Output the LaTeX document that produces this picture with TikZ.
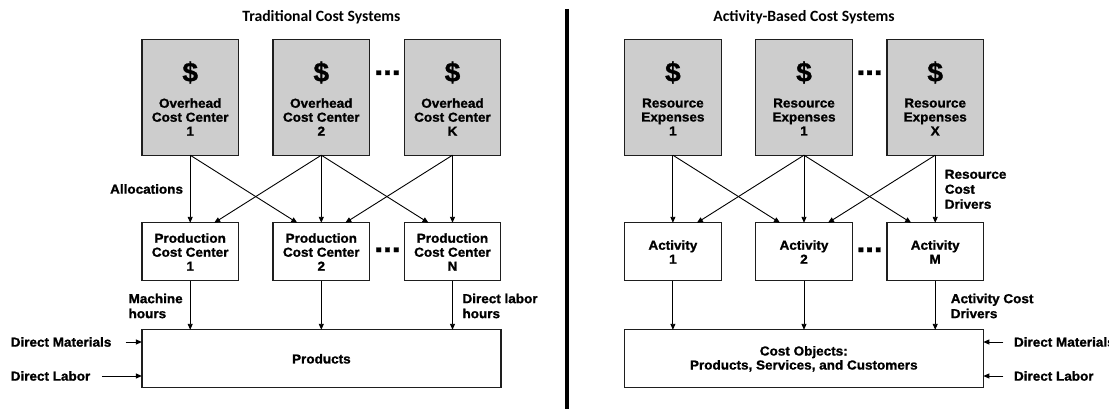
\documentclass[tikz,border=0pt]{standalone}
\usepackage{fontspec}
\setmainfont{Liberation Sans}[BoldFeatures={FakeBold=1.2,FakeStretch=1.04}]
\newfontfamily\titlefont{Carlito}
\usetikzlibrary{arrows.meta}

\definecolor{boxgray}{RGB}{205,205,205}
\definecolor{edge}{RGB}{30,30,30}

\begin{document}
\begin{tikzpicture}[x=1pt,y=-1pt,
  every node/.style={font=\bfseries\fontsize{13}{14}\selectfont, inner sep=0pt, outer sep=0pt},
  topbox/.style={draw=edge, line width=1.3pt, fill=boxgray, minimum width=96.5pt, minimum height=116pt},
  midbox/.style={draw=edge, line width=1.3pt, fill=white, minimum width=96.5pt, minimum height=57.8pt},
  basebox/.style={draw=edge, line width=1.3pt, fill=white, minimum width=359pt, minimum height=58pt},
  flow/.style={draw=black, line width=0.9pt, -{Triangle[length=6pt,width=5pt]}},
  title/.style={font=\titlefont\bfseries\fontsize{15.7}{18}\selectfont},
  dollar/.style={font=\bfseries\fontsize{27}{27}\selectfont},
  ellip/.style={font=\bfseries\fontsize{30}{30}\selectfont, anchor=base},
  boxtext/.style={align=center},
  lbl/.style={align=left, anchor=west, font=\bfseries\fontsize{13}{15}\selectfont},
]
\useasboundingbox (0,0) rectangle (1109,409);

% ---------------- Traditional cost systems ----------------
\node[title] (tleft) at (321.4,17.3) {Traditional Cost Systems};

\node[topbox] (o1) at (190.2,97.2) {};
\node[topbox] (o2) at (321.3,97.2) {};
\node[topbox] (o3) at (452.5,97.2) {};
\node[dollar] (o1d) at (190.2,72.5) {\$};
\node[dollar] (o2d) at (321.3,72.5) {\$};
\node[dollar] (o3d) at (452.5,72.5) {\$};
\node[boxtext] (o1t) at (190.2,117) {Overhead\\Cost Center\\1};
\node[boxtext] (o2t) at (321.3,117) {Overhead\\Cost Center\\2};
\node[boxtext] (o3t) at (452.5,117) {Overhead\\Cost Center\\K};
\node[ellip] (odots) at (387.5,75) {...};

\node[midbox] (p1) at (190.2,251.7) {};
\node[midbox] (p2) at (321.3,251.7) {};
\node[midbox] (p3) at (452.5,251.7) {};
\node[boxtext] (p1t) at (190.2,252) {Production\\Cost Center\\1};
\node[boxtext] (p2t) at (321.3,252) {Production\\Cost Center\\2};
\node[boxtext] (p3t) at (452.5,252) {Production\\Cost Center\\N};
\node[ellip] (pdots) at (387.5,252) {...};

\node[basebox] (prod) at (321.4,358.8) {Products};

\node[anchor=east] (alloc) at (183,189) {Allocations};
\node[lbl] (mach) at (128.6,306) {Machine\\hours};
\node[lbl] (dlh) at (462.5,306) {Direct labor\\hours};
\node[anchor=west] (dml) at (10.7,342) {Direct Materials};
\node[anchor=west] (dll) at (10.7,376) {Direct Labor};

\draw[flow] (o1.south) -- (p1.north);
\draw[flow] (o1.south) -- ([xshift=-24pt]p2.north);
\draw[flow] (o2.south) -- ([xshift=24pt]p1.north);
\draw[flow] (o2.south) -- (p2.north);
\draw[flow] (o2.south) -- ([xshift=-24pt]p3.north);
\draw[flow] (o3.south) -- ([xshift=24pt]p2.north);
\draw[flow] (o3.south) -- (p3.north);

\draw[flow] (p1.south) -- (p1.south |- prod.north);
\draw[flow] (p2.south) -- (p2.south |- prod.north);
\draw[flow] (p3.south) -- (p3.south |- prod.north);

\coordinate (dmL) at (125.7,342);
\coordinate (dlL) at (101.8,376);
\draw[flow] (dmL) -- (dmL -| prod.west);
\draw[flow] (dlL) -- (dlL -| prod.west);

% ---------------- separator ----------------
\coordinate (sepT) at (567,9);
\coordinate (sepB) at (567,412);
\draw[line width=4.6pt] (sepT) -- (sepB);

% ---------------- Activity-based cost systems ----------------
\node[title] (tright) at (804,17.3) {Activity-Based Cost Systems};

\node[topbox] (r1) at (672.9,97.2) {};
\node[topbox] (r2) at (804,97.2) {};
\node[topbox] (r3) at (935.2,97.2) {};
\node[dollar] (r1d) at (672.9,72.5) {\$};
\node[dollar] (r2d) at (804,72.5) {\$};
\node[dollar] (r3d) at (935.2,72.5) {\$};
\node[boxtext] (r1t) at (672.9,117) {Resource\\Expenses\\1};
\node[boxtext] (r2t) at (804,117) {Resource\\Expenses\\1};
\node[boxtext] (r3t) at (935.2,117) {Resource\\Expenses\\X};
\node[ellip] (rdots) at (869.6,75) {...};

\node[midbox] (a1) at (672.9,251.7) {};
\node[midbox] (a2) at (804,251.7) {};
\node[midbox] (a3) at (935.2,251.7) {};
\node[boxtext] (a1t) at (672.9,252) {Activity\\1};
\node[boxtext] (a2t) at (804,252) {Activity\\2};
\node[boxtext] (a3t) at (935.2,252) {Activity\\M};
\node[ellip] (adots) at (869.6,252) {...};

\node[basebox, align=center] (cobj) at (803.8,358.8) {Cost Objects:\\Products, Services, and Customers};

\node[lbl] (rcd) at (944.8,189.3) {Resource\\Cost\\Drivers};
\node[lbl] (acd) at (950.8,306) {Activity Cost\\Drivers};
\node[anchor=west] (dmr) at (1014,342) {Direct Materials};
\node[anchor=west] (dlr) at (1014,376) {Direct Labor};

\draw[flow] (r1.south) -- (a1.north);
\draw[flow] (r1.south) -- ([xshift=-24pt]a2.north);
\draw[flow] (r2.south) -- ([xshift=24pt]a1.north);
\draw[flow] (r2.south) -- (a2.north);
\draw[flow] (r2.south) -- ([xshift=-24pt]a3.north);
\draw[flow] (r3.south) -- ([xshift=24pt]a2.north);
\draw[flow] (r3.south) -- (a3.north);

\draw[flow] (a1.south) -- (a1.south |- cobj.north);
\draw[flow] (a2.south) -- (a2.south |- cobj.north);
\draw[flow] (a3.south) -- (a3.south |- cobj.north);

\coordinate (dmR) at (1003.3,342);
\coordinate (dlR) at (1003.3,376);
\draw[flow] (dmR) -- (dmR -| cobj.east);
\draw[flow] (dlR) -- (dlR -| cobj.east);
\end{tikzpicture}
\end{document}
